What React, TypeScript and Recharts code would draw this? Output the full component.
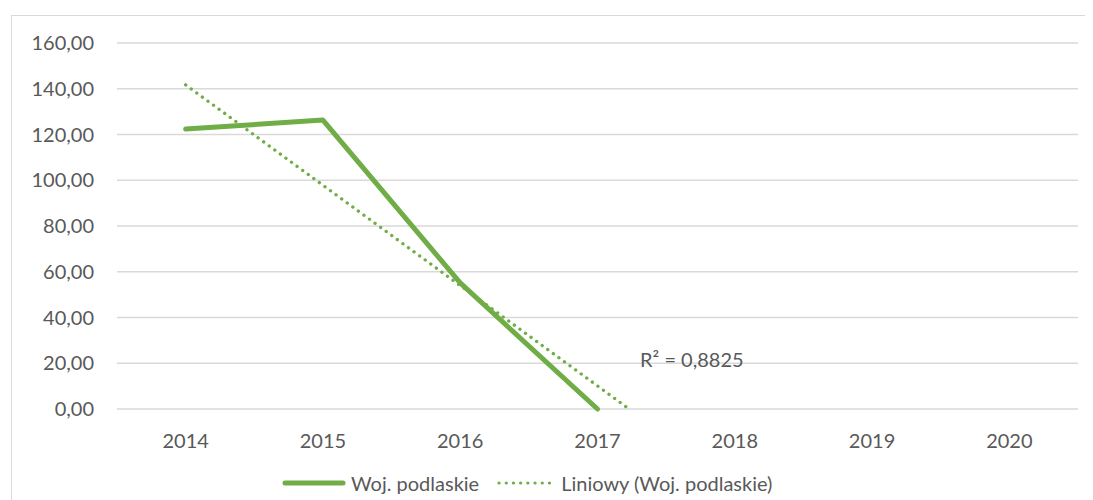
import React from "react";
import { LineChart, Line, XAxis, YAxis, CartesianGrid, ReferenceDot } from "recharts";

const years = ["2014", "2015", "2016", "2017", "2018", "2019", "2020"];
const values = [122.4, 126.3, 55.1, 0];
const trendX = [0, 3.23];
const trendY = [141.7, 0];
const yTicks = [0, 20, 40, 60, 80, 100, 120, 140, 160];
const seriesName = "Woj. podlaskie";
const trendName = "Liniowy (Woj. podlaskie)";
const r2Label = "R² = 0,8825";

const mainData = values.map((v, i) => ({ x: i, y: v }));
const trendData = trendX.map((x, i) => ({ x, y: trendY[i] }));

const GREEN = "#70AD47";
const TEXT = "#595959";
const FONT = "Lato, 'Open Sans', sans-serif";

const fmt = (v: number) => v.toFixed(2).replace(".", ",");

export default function App() {
  return (
    <div style={{ position: "relative", width: 1085, height: 492, fontFamily: FONT }}>
      <style>{`body{overflow:hidden}`}</style>
      <div
        style={{
          position: "absolute",
          left: 3,
          top: 7,
          width: 1100,
          height: 500,
          border: "1px solid #d9d9d9",
          boxSizing: "border-box",
        }}
      />
      <div style={{ position: "absolute", left: 0, top: 0 }}>
        <LineChart
          width={1085}
          height={492}
          margin={{ top: 35, right: 15, left: 0, bottom: 61 }}
        >
          <CartesianGrid vertical={false} stroke="#d9d9d9" strokeWidth={1.3} />
          <XAxis
            dataKey="x"
            type="number"
            domain={[-0.5, 6.5]}
            ticks={[0, 1, 2, 3, 4, 5, 6]}
            tickFormatter={(i: number) => years[i]}
            axisLine={false}
            tickLine={false}
            tickMargin={19}
            height={30}
            tick={{ fill: TEXT, fontSize: 20, fontFamily: FONT }}
            allowDataOverflow
          />
          <YAxis
            type="number"
            domain={[0, 160]}
            ticks={yTicks}
            tickFormatter={fmt}
            axisLine={false}
            tickLine={false}
            tickMargin={17}
            width={109}
            tick={{ fill: TEXT, fontSize: 20, fontFamily: FONT }}
          />
          <Line
            data={mainData}
            dataKey="y"
            stroke={GREEN}
            strokeWidth={5}
            dot={false}
            strokeLinecap="round"
            strokeLinejoin="round"
            isAnimationActive={false}
            name={seriesName}
          />
          <Line
            data={trendData}
            dataKey="y"
            stroke={GREEN}
            strokeWidth={3.3}
            strokeDasharray="0.1 6.8"
            strokeLinecap="round"
            dot={false}
            isAnimationActive={false}
            name={trendName}
          />
          <ReferenceDot
            x={3.31}
            y={18.4}
            r={0}
            fill="none"
            stroke="none"
            label={(props: any) => (
              <text
                x={props.viewBox?.x ?? 0}
                y={props.viewBox?.y ?? 0}
                fill={TEXT}
                fontSize={20}
                fontFamily={FONT}
                textAnchor="start"
              >
                {r2Label}
              </text>
            )}
          />
        </LineChart>
      </div>
      <div
        style={{
          position: "absolute",
          left: 274,
          top: 462,
          display: "flex",
          alignItems: "center",
          height: 26,
          color: TEXT,
          fontSize: 20,
          fontFamily: FONT,
          whiteSpace: "nowrap",
        }}
      >
        <svg width={64} height={10} style={{ marginRight: 5 }}>
          <line x1={3} y1={5} x2={61} y2={5} stroke={GREEN} strokeWidth={5} strokeLinecap="round" />
        </svg>
        <span>{seriesName}</span>
        <svg width={61} height={10} style={{ marginLeft: 18, marginRight: 3 }}>
          <line
            x1={2}
            y1={5}
            x2={59}
            y2={5}
            stroke={GREEN}
            strokeWidth={3.2}
            strokeDasharray="0.1 7.1"
            strokeLinecap="round"
          />
        </svg>
        <span>{trendName}</span>
      </div>
    </div>
  );
}
